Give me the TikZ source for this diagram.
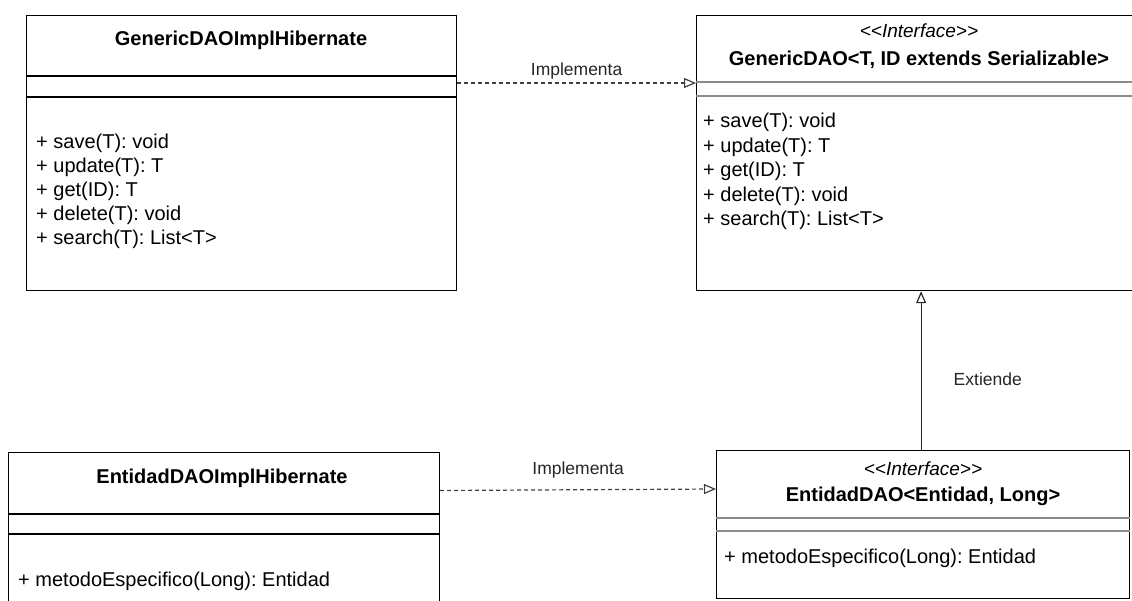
\documentclass[tikz,border=0pt]{standalone}
\usepackage{fontspec}
\setmainfont{Liberation Sans}
\usetikzlibrary{arrows.meta}
\frenchspacing
\begin{document}
\begin{tikzpicture}[x=1pt,y=-1pt,
  classbox/.style={draw=black, line width=1.2pt, rectangle, inner sep=0pt, anchor=north west},
  sepdark/.style={draw=black, line width=1.2pt},
  sepgray/.style={draw=black!45, line width=1.2pt},
  classname/.style={inner sep=0pt, anchor=base, font=\fontsize{20pt}{24pt}\selectfont\bfseries},
  stereo/.style={inner sep=0pt, anchor=base, font=\fontsize{19pt}{23pt}\selectfont\itshape},
  member/.style={inner sep=0pt, anchor=base west, font=\fontsize{20pt}{24pt}\selectfont},
  edgelabel/.style={inner sep=0pt, font=\fontsize{17.5pt}{21pt}\selectfont, text=black!85},
  realize/.style={draw=black!75, line width=1.2pt, dash pattern=on 4pt off 3pt,
    -{Triangle[open,length=12pt,width=10pt,line width=1.2pt]}},
  extend/.style={draw=black!85, line width=1.2pt,
    -{Triangle[open,length=12pt,width=10pt,line width=1.2pt]}}
]
\useasboundingbox (0,0) rectangle (1132,600);

% class frames
\node[classbox, minimum width=430pt, minimum height=275pt] (b1) at (26,15) {};
\node[classbox, minimum width=444pt, minimum height=275pt] (b2) at (696,15) {};
\node[classbox, minimum width=431pt, minimum height=160pt] (b3) at (8,452) {};
\node[classbox, minimum width=413pt, minimum height=148pt] (b4) at (716,450) {};

% compartment separators
\draw[sepdark] ([yshift=-61pt]b1.north west) -- ([yshift=-61pt]b1.north east);
\draw[sepdark] ([yshift=-82pt]b1.north west) -- ([yshift=-82pt]b1.north east);
\draw[sepgray] ([yshift=-67pt]b2.north west) -- ([yshift=-67pt]b2.north east);
\draw[sepgray] ([yshift=-81pt]b2.north west) -- ([yshift=-81pt]b2.north east);
\draw[sepdark] ([yshift=-62pt]b3.north west) -- ([yshift=-62pt]b3.north east);
\draw[sepdark] ([yshift=-82pt]b3.north west) -- ([yshift=-82pt]b3.north east);
\draw[sepgray] ([yshift=-68pt]b4.north west) -- ([yshift=-68pt]b4.north east);
\draw[sepgray] ([yshift=-81pt]b4.north west) -- ([yshift=-81pt]b4.north east);

% GenericDAOImplHibernate
\node[classname] (t1) at (241,45) {GenericDAOImplHibernate};
\foreach \txt/\yy [count=\i] in {{+ save(T): void}/148,{+ update(T): T}/172,{+ get(ID): T}/196.5,{+ delete(T): void}/220.5,{+ search(T): List<T>}/244.5}
  \node[member] (m1-\i) at (36,\yy) {\txt};

% GenericDAO interface
\node[stereo] (s2) at (919,37) {<{}<Interface>{}>};
\node[classname] (t2) at (919,65) {GenericDAO<T, ID extends Serializable>};
\foreach \txt/\yy [count=\i] in {{+ save(T): void}/127.5,{+ update(T): T}/152,{+ get(ID): T}/176.5,{+ delete(T): void}/201,{+ search(T): List<T>}/225.5}
  \node[member] (m2-\i) at (703,\yy) {\txt};

% EntidadDAOImplHibernate
\node[classname] (t3) at (222,483) {EntidadDAOImplHibernate};
\node[member] (m3-1) at (18,586) {+ metodoEspecifico(Long): Entidad};

% EntidadDAO interface
\node[stereo] (s4) at (923,475) {<{}<Interface>{}>};
\node[classname] (t4) at (923,501) {EntidadDAO<Entidad, Long>};
\node[member] (m4-1) at (724,563) {+ metodoEspecifico(Long): Entidad};

% relations
\draw[realize] ([yshift=-68pt]b1.north east) -- ([yshift=-68pt]b2.north west)
  node[edgelabel, midway, anchor=base, yshift=8pt] (l1) {Implementa};
\draw[realize] ([yshift=-38.5pt]b3.north east) -- ([yshift=-39pt]b4.north west)
  node[edgelabel, midway, anchor=base, yshift=15pt] (l2) {Implementa};
\draw[extend] ([xshift=-2pt]b4.north) -- ([xshift=-2pt]b4.north |- b2.south)
  node[edgelabel, pos=0.406, anchor=base west, xshift=32pt] (l3) {Extiende};
\end{tikzpicture}
\end{document}
